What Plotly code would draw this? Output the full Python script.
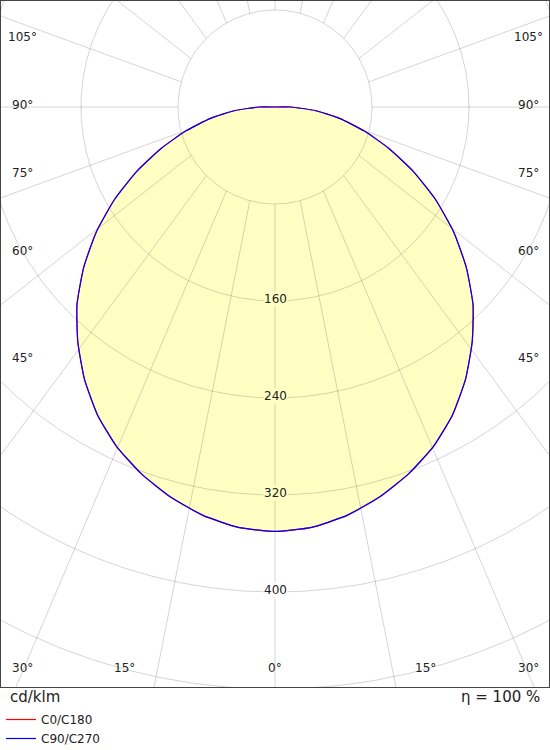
import numpy as np
import plotly.graph_objects as go

# luminous intensity distribution, cd/klm, gamma 0..180 deg
gamma = [0, 5, 10, 15, 20, 25, 30, 35, 40, 45, 50, 55, 60, 65, 70, 75, 80, 85, 90,
         95, 100, 105, 110, 115, 120, 125, 130, 135, 140, 145, 150, 155, 160, 165, 170, 175, 180]
i_c0_c180 = [350, 348, 342, 333, 322, 309, 293, 274, 253, 231, 206, 180, 153, 126, 100, 76, 54, 33, 13,
             0, 0, 0, 0, 0, 0, 0, 0, 0, 0, 0, 0, 0, 0, 0, 0, 0, 0]
i_c90_c270 = [350, 348, 342, 333, 322, 309, 293, 274, 253, 231, 206, 180, 153, 126, 100, 76, 54, 33, 13,
              0, 0, 0, 0, 0, 0, 0, 0, 0, 0, 0, 0, 0, 0, 0, 0, 0, 0]

ring_values = [80, 160, 240, 320, 400, 480]
ring_labels = [160, 240, 320, 400]
spoke_angles = [0, 15, 30, 45, 60, 75, 90, 105, 120, 135, 150, 165, 180]
angle_labels = [0, 15, 30, 45, 60, 75, 90, 105]

FONT = "DejaVu Sans"
FILL = "#ffffc4"
GRID = "rgba(0,0,0,0.17)"
PX = 97 / 80          # pixels per cd/klm
STRETCH = 1.36        # spokes are drawn with a stretched vertical direction
X_RANGE = [-274 / PX, 274 / PX]
Y_RANGE = [-580 / PX, 106 / PX]
CURVE = dict(shape="spline", smoothing=0.5)


def full_curve(values):
    g = np.array(gamma, dtype=float)
    r = np.array(values, dtype=float)
    ang = np.radians(np.concatenate([-g[::-1], g[1:]]))
    rr = np.concatenate([r[::-1], r[1:]])
    return rr * np.sin(ang), -rr * np.cos(ang)


fig = go.Figure()

fx, fy = full_curve(i_c0_c180)
fig.add_trace(go.Scatter(x=fx, y=fy, mode="lines", fill="toself", fillcolor=FILL,
                         line=dict(width=0, **CURVE), showlegend=False, hoverinfo="skip"))

# rings
t = np.linspace(0, 2 * np.pi, 721)
rx, ry = [], []
for r in ring_values:
    rx += list(r * np.cos(t)) + [None]
    ry += list(r * np.sin(t)) + [None]
fig.add_trace(go.Scatter(x=rx, y=ry, mode="lines", line=dict(color=GRID, width=1),
                         showlegend=False, hoverinfo="skip"))

# spokes, starting on the innermost ring
sx, sy = [], []
r0 = ring_values[0]
for a in spoke_angles:
    for side in ((1,) if a in (0, 180) else (1, -1)):
        g = np.radians(a) * side
        x0, y0 = r0 * np.sin(g), -r0 * np.cos(g)
        dx, dy = np.sin(g), -STRETCH * np.cos(g)
        n = np.hypot(dx, dy)
        sx += [x0, x0 + 1200 * dx / n, None]
        sy += [y0, y0 + 1200 * dy / n, None]
fig.add_trace(go.Scatter(x=sx, y=sy, mode="lines", line=dict(color=GRID, width=1),
                         showlegend=False, hoverinfo="skip"))

cx, cy = full_curve(i_c0_c180)
fig.add_trace(go.Scatter(x=cx, y=cy, mode="lines", name="C0/C180",
                         line=dict(color="#ff0000", width=1.2, **CURVE)))
cx, cy = full_curve(i_c90_c270)
fig.add_trace(go.Scatter(x=cx, y=cy, mode="lines", name="C90/C270",
                         line=dict(color="#0000ff", width=1.2, **CURVE)))

annotations = []
peak = max(i_c0_c180)
for v in ring_labels:
    annotations.append(dict(x=0, y=-v, text=str(v), showarrow=False, yshift=2,
                            bgcolor=FILL if v < peak else "white", borderpad=0,
                            font=dict(family=FONT, size=12, color="#222")))

# angle labels sit along the frame, inset a little
x_in = 253 / PX
y_in = -563 / PX
for a in angle_labels:
    g = np.radians(a)
    x0, y0 = r0 * np.sin(g), -r0 * np.cos(g)
    hits_bottom = np.cos(g) > 0.5 and \
        x0 + (y0 - Y_RANGE[0]) / (STRETCH * np.cos(g)) * np.sin(g) <= X_RANGE[1]
    for side in ((1,) if a == 0 else (1, -1)):
        if hits_bottom:
            lx, ly = side * min(-y_in * np.tan(g), x_in), y_in
        else:
            lx, ly = side * x_in, -x_in / np.tan(g)
        annotations.append(dict(x=lx, y=ly, text=f"{a}°", showarrow=False, yshift=2,
                                font=dict(family=FONT, size=12, color="#222")))

annotations.append(dict(x=7 / 548, y=-10 / 686, xref="paper", yref="paper", text="cd/klm",
                        showarrow=False, xanchor="left", yanchor="middle",
                        font=dict(family=FONT, size=15, color="#222")))
annotations.append(dict(x=541 / 548, y=-10 / 686, xref="paper", yref="paper", text="η = 100 %",
                        showarrow=False, xanchor="right", yanchor="middle",
                        font=dict(family=FONT, size=15, color="#222")))

axis = dict(showgrid=False, zeroline=False, showticklabels=False, ticks="",
            showline=True, mirror=True, linecolor="#444", linewidth=1, fixedrange=True)
fig.update_layout(
    width=550, height=750,
    margin=dict(l=1, r=1, t=1, b=63, autoexpand=False),
    paper_bgcolor="white", plot_bgcolor="white",
    xaxis=dict(range=X_RANGE, **axis),
    yaxis=dict(range=Y_RANGE, **axis),
    annotations=annotations,
    showlegend=True,
    legend=dict(x=0, xanchor="left", y=-18 / 686, yanchor="top", orientation="v",
                font=dict(family=FONT, size=12, color="#222"), bgcolor="rgba(0,0,0,0)",
                tracegroupgap=0, itemwidth=30),
)

# page has a default body margin; pin the figure to the window corner
fig.write_html("out.html", config={"displayModeBar": False},
               post_script="document.body.style.margin='0px';"
                           "document.body.style.overflow='hidden';")
